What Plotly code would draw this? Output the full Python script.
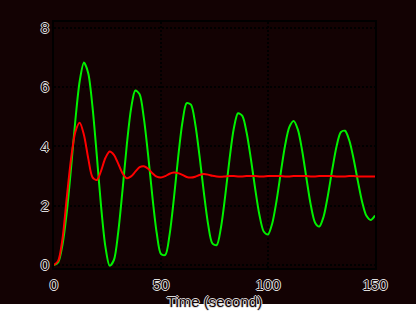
import plotly.graph_objects as go

time_s = list(range(0, 151, 2))

green_vals = [
    0.0, 0.1, 0.7, 1.8, 3.3, 4.9, 6.2, 6.83,          # 0-14
    6.47, 5.33, 3.70, 1.98, 0.63, -0.02,             # 16-26
    0.17, 1.10, 2.51, 4.04, 5.27, 5.89,              # 28-38
    5.76, 4.95, 3.70, 2.29, 1.08, 0.37,              # 40-50
    0.34, 1.02, 2.23, 3.62, 4.81, 5.46,              # 52-62
    5.41, 4.76, 3.68, 2.46, 1.38, 0.73,              # 64-74
    0.67, 1.26, 2.33, 3.56, 4.60, 5.12,              # 76-86
    5.03, 4.47, 3.58, 2.58, 1.69, 1.13,              # 88-98
    1.03, 1.41, 2.17, 3.13, 4.04, 4.66,              # 100-110
    4.86, 4.56, 3.84, 2.91, 2.02, 1.43,              # 112-122
    1.30, 1.64, 2.35, 3.21, 3.99, 4.48,              # 124-134
    4.53, 4.20, 3.58, 2.83, 2.13, 1.66,              # 136-146
    1.52, 1.67,                                      # 148-150
]

red_vals = [
    0.0, 0.15, 0.9, 2.3, 3.6, 4.5, 4.80,             # 0-12
    4.39, 3.60, 2.96,                                # 14-18
    2.87, 3.18, 3.61, 3.83,                          # 20-26
    3.72, 3.42, 3.10, 2.93,                          # 28-34
    2.99, 3.15, 3.30,                                # 36-40
    3.33, 3.25, 3.10, 2.98, 2.95,                    # 42-50
    3.00, 3.08, 3.12, 3.10, 3.04, 2.97, 2.95,        # 52-64
    2.98, 3.04, 3.07, 3.05, 3.01, 2.99,              # 66-76
    2.98, 2.99, 3.00, 3.00, 2.99, 2.99, 3.00,        # 78-90
    3.00, 3.00, 2.99, 2.99, 3.00, 3.00, 3.00,        # 92-104
    3.00, 2.99, 2.99, 3.00, 3.00, 3.00, 3.00,        # 106-118
    2.99, 2.99, 3.00, 3.00, 3.00, 3.00, 2.99,        # 120-132
    2.99, 2.99, 3.00, 3.00, 2.99, 2.99, 2.99,        # 134-146
    2.99, 2.99,                                      # 148-150
]

x_ticks = [0, 50, 100, 150]
y_ticks = [0, 2, 4, 6, 8]
x_title = "Time (second)"

BG = "#130203"
oc = "#dcdcdc"
outline = f"1px 0 0 {oc}, -1px 0 0 {oc}, 0 1px 0 {oc}, 0 -1px 0 {oc}"
tick_font = dict(family="Liberation Sans, Arial, sans-serif", size=15, color=BG, shadow=outline)

fig = go.Figure()
fig.add_trace(go.Scatter(x=time_s, y=green_vals, mode="lines",
                         line=dict(color="#00f000", width=2, shape="spline", smoothing=0.8)))
fig.add_trace(go.Scatter(x=time_s, y=red_vals, mode="lines",
                         line=dict(color="#ff0000", width=2, shape="spline", smoothing=0.8)))

# white page strip below the chart canvas
fig.add_shape(type="rect", xref="paper", yref="paper",
              x0=-0.5, x1=1.5, y0=-0.4, y1=-0.1465,
              fillcolor="#ffffff", line=dict(width=0), layer="above")

fig.update_layout(
    width=416, height=312,
    margin=dict(l=54, r=41, t=22, b=44),
    paper_bgcolor=BG, plot_bgcolor=BG,
    showlegend=False,
)
fig.update_xaxes(
    range=[0, 150], tickvals=x_ticks, ticks="", tickfont=tick_font,
    ticklabelstandoff=2, automargin=False,
    showline=True, mirror=True, linecolor="#000000", linewidth=2,
    showgrid=True, gridcolor="#000000", gridwidth=1.5, griddash="2px,2px",
    zeroline=False,
    title=dict(text=x_title, font=tick_font, standoff=2),
)
fig.update_yaxes(
    range=[-0.1, 8.2], tickvals=y_ticks, ticks="", tickfont=tick_font,
    automargin=False,
    showline=True, mirror=True, linecolor="#000000", linewidth=2,
    showgrid=True, gridcolor="#000000", gridwidth=1.5, griddash="2px,2px",
    zeroline=False,
)

fig.write_html("out.html")
